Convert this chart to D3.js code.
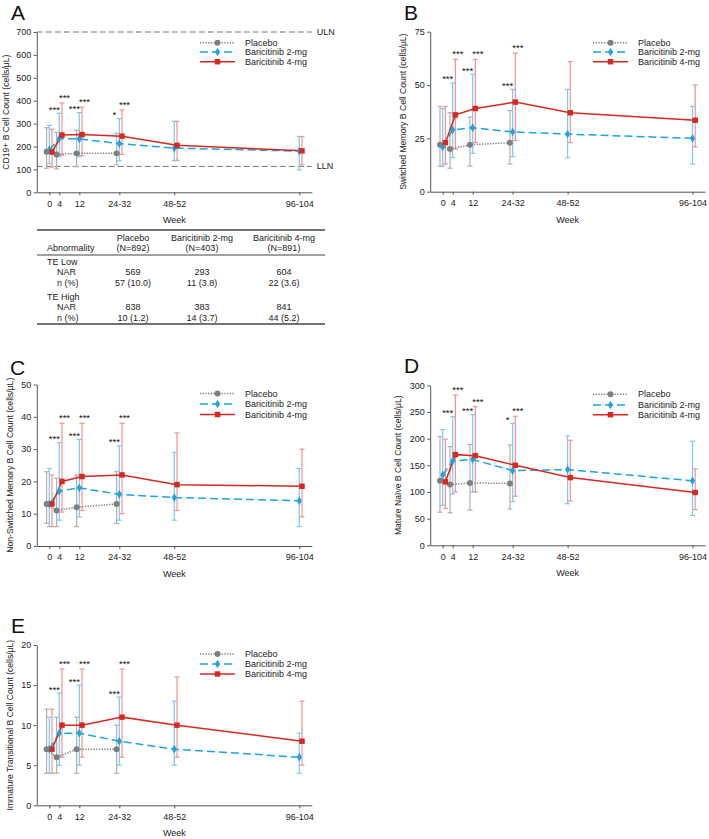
<!DOCTYPE html>
<html><head><meta charset="utf-8">
<script src="https://cdn.jsdelivr.net/npm/d3@7"></script>
<style>body{margin:0;background:#fff;} svg{display:block;}</style>
</head><body><svg id="c" width="709" height="839"></svg>
<script>
const FONT = '"Liberation Sans", Arial, sans-serif';
const weekLabels = ["0","4","12","24-32","48-52","96-104"];
const weekPos = [0,4,12,28,50,100];
const seriesNames = ["Placebo","Baricitinib 2-mg","Baricitinib 4-mg"];

// [mean, lower, upper] per visit
const cd19Placebo = [[177,105,282],[165,102,262],[170,112,271],[170,120,258]];
const cd19Bari2 = [[185,125,292],[235,155,345],[233,155,348],[213,138,322],[193,138,310],[180,98,244]];
const cd19Bari4 = [[176,110,275],[250,162,390],[252,160,372],[245,165,360],[205,140,310],[181,120,243]];
const cd19Stars2 = ["","***","***","*","",""];
const cd19Stars4 = ["","***","***","***","",""];
const cd19Ref = [700,113];

const swPlacebo = [[22,12,40],[20,11,37],[22,12,35],[23,13,38]];
const swBari2 = [[21,12,39],[29,16,51],[30,18,55],[28,16.5,48],[27,16,48],[25,13,40]];
const swBari4 = [[23,13,40],[36,20,62],[39,23,62],[42,24,65],[37,23,61],[33.5,21,50]];
const swStars2 = ["","***","***","***","",""];
const swStars4 = ["","***","***","***","",""];

const nswPlacebo = [[13,7,23],[11,6,21],[12,6,22],[13,7,23]];
const nswBari2 = [[13,6,24],[17,8,32],[18,9,33],[16,8,31],[15,8,29],[14,6,24]];
const nswBari4 = [[13,6,22],[20,10.5,38],[21.5,11,38],[22,10,38],[19,11,35],[18.5,9,30]];
const nswStars2 = ["","***","***","***","",""];
const nswStars4 = ["","***","***","***","",""];

const mnPlacebo = [[121,62,204],[114,61,185],[117,66,189],[116,68,188]];
const mnBari2 = [[132,75,217],[158,96,241],[161,100,245],[140,82,229],[142,78,205],[121,56,195]];
const mnBari4 = [[119,69,199],[170,100,282],[168,100,260],[150,92,242],[127,83,197],[99,67,143]];
const mnStars2 = ["","***","***","*","",""];
const mnStars4 = ["","***","***","***","",""];

const itPlacebo = [[7,4,12],[6,4,11],[7,4,11],[7,4,10]];
const itBari2 = [[7,4,11],[9,5,14],[9,5,15],[8,5,13.5],[7,5,13],[6,4,9]];
const itBari4 = [[7,4,12],[10,6,17],[10,6,17],[11,6,17],[10,6,16],[8,5,13]];
const itStars2 = ["","***","***","***","",""];
const itStars4 = ["","***","***","***","",""];

const tableHeads = [["Placebo","(N=892)"],["Baricitinib 2-mg","(N=403)"],["Baricitinib 4-mg","(N=891)"]];
const teLowNAR = ["569","293","604"];
const teLowN = ["57 (10.0)","11 (3.8)","22 (3.6)"];
const teHighNAR = ["838","383","841"];
const teHighN = ["10 (1.2)","14 (3.7)","44 (5.2)"];

const styles = [
  {color:"#7f7f7f", err:"#b0b0b0", dash:"1.3,1.4", off:-2.7, sym:d3.symbolCircle, size:28, starShift:0, starLift:1},
  {color:"#1fa3dc", err:"#7ccaeb", dash:"8,4", off:0, sym:d3.symbolDiamond, size:22, starShift:-5, starLift:0.5},
  {color:"#d52a22", err:"#ee9494", dash:null, off:2.7, sym:d3.symbolSquare, size:30, starShift:2.5, starLift:2}
];

const svg = d3.select("#c");

function txt(g, x, y, s, size, anchor) {
  return g.append("text").attr("x", x).attr("y", y).text(s)
    .attr("font-family", FONT).attr("font-size", size).attr("fill", "#222")
    .attr("text-anchor", anchor || "start").attr("dominant-baseline", "central");
}

function drawPanel(c) {
  const x = d3.scaleLinear().domain([-5,105]).range([c.x0, c.x1]);
  const y = d3.scaleLinear().domain([0, c.yMax]).range([c.yB, c.yT]);
  const g = svg.append("g");

  if (c.ref) {
    c.ref.forEach((v, i) => {
      g.append("line").attr("x1", c.x0).attr("x2", c.x1).attr("y1", y(v)).attr("y2", y(v))
        .attr("stroke", "#777").attr("stroke-width", 1).attr("stroke-dasharray", "6,3");
      txt(g, c.x1 + 5, y(v), i === 0 ? "ULN" : "LLN", 9);
    });
  }

  const xa = g.append("g").attr("transform", `translate(0,${c.yB})`)
    .call(d3.axisBottom(x).tickValues(weekPos).tickFormat((d,i)=>weekLabels[i]).tickSize(3).tickSizeOuter(0).tickPadding(5));
  const ya = g.append("g").attr("transform", `translate(${c.x0},0)`)
    .call(d3.axisLeft(y).tickValues(c.ticks).tickSize(3).tickSizeOuter(0).tickPadding(2.5));
  [xa, ya].forEach(a => {
    a.selectAll("path,line").attr("stroke", "#555");
    a.selectAll("text").attr("font-size", 9).attr("fill", "#222").attr("font-family", FONT);
  });

  txt(g, (c.x0 + c.x1) / 2, c.yB + 28, "Week", 9, "middle");
  g.append("text").attr("transform", `translate(${c.ylx},${(c.yT + c.yB) / 2}) rotate(-90)`)
    .attr("text-anchor", "middle").attr("dominant-baseline", "central")
    .attr("font-family", FONT).attr("font-size", 8.6).attr("fill", "#222").text(c.ylabel);
  g.append("text").attr("x", c.lx).attr("y", c.ly).text(c.letter)
    .attr("font-family", FONT).attr("font-size", 21).attr("fill", "#111");

  const data = [c.p, c.b, c.r];
  data.forEach((d, si) => {
    const st = styles[si];
    d.forEach((v, i) => {
      const px = x(weekPos[i]) + st.off;
      g.append("line").attr("x1", px).attr("x2", px).attr("y1", y(v[1])).attr("y2", y(v[2]))
        .attr("stroke", st.err).attr("stroke-width", 1.2);
      [v[1], v[2]].forEach(e => {
        g.append("line").attr("x1", px - 2.5).attr("x2", px + 2.5).attr("y1", y(e)).attr("y2", y(e))
          .attr("stroke", st.err).attr("stroke-width", 1.2);
      });
    });
  });
  data.forEach((d, si) => {
    const st = styles[si];
    const line = d3.line().x((v, i) => x(weekPos[i]) + st.off).y(v => y(v[0]));
    g.append("path").attr("d", line(d)).attr("fill", "none").attr("stroke", st.color)
      .attr("stroke-width", 1.5).attr("stroke-dasharray", st.dash);
  });
  data.forEach((d, si) => {
    const st = styles[si];
    d.forEach((v, i) => {
      g.append("path").attr("d", d3.symbol().type(st.sym).size(st.size)())
        .attr("transform", `translate(${x(weekPos[i]) + st.off},${y(v[0])})`).attr("fill", st.color);
    });
  });
  [[c.b, c.s2, styles[1]], [c.r, c.s4, styles[2]]].forEach(([d, s, st]) => {
    s.forEach((t, i) => {
      if (!t) return;
      g.append("text").attr("x", x(weekPos[i]) + st.off + st.starShift).attr("y", y(d[i][2]) - st.starLift)
        .attr("text-anchor", "middle").attr("font-family", FONT).attr("font-size", 9.5)
        .attr("fill", "#111").text(t);
    });
  });
  seriesNames.forEach((n, si) => {
    const st = styles[si];
    const ly = c.legY[si];
    g.append("line").attr("x1", c.legX).attr("x2", c.legX + 35).attr("y1", ly).attr("y2", ly)
      .attr("stroke", st.color).attr("stroke-width", 1.5).attr("stroke-dasharray", st.dash);
    g.append("path").attr("d", d3.symbol().type(st.sym).size(st.size)())
      .attr("transform", `translate(${c.legX + 17.5},${ly})`).attr("fill", st.color);
    txt(g, c.legX + 45, ly, n, 9);
  });
}

drawPanel({x0:36.8, x1:311.8, yT:32, yB:192.3, yMax:700, ticks:d3.range(0,701,100),
  p:cd19Placebo, b:cd19Bari2, r:cd19Bari4, s2:cd19Stars2, s4:cd19Stars4, ref:cd19Ref,
  ylabel:"CD19+ B Cell Count (cells/μL)", ylx:6, letter:"A", lx:11, ly:20,
  legX:200, legY:[42.7,52,61.7]});

drawPanel({x0:430.2, x1:705, yT:31.7, yB:191.7, yMax:75, ticks:[0,25,50,75],
  p:swPlacebo, b:swBari2, r:swBari4, s2:swStars2, s4:swStars4,
  ylabel:"Switched Memory B Cell Count (cells/μL)", ylx:403, letter:"B", lx:404, ly:19.5,
  legX:593, legY:[42.7,52,61.7]});

drawPanel({x0:36.8, x1:311.8, yT:384.5, yB:546, yMax:50, ticks:d3.range(0,51,10),
  p:nswPlacebo, b:nswBari2, r:nswBari4, s2:nswStars2, s4:nswStars4,
  ylabel:"Non-Switched Memory B Cell Count (cells/μL)", ylx:10, letter:"C", lx:10, ly:375,
  legX:200, legY:[393.5,404,414.5]});

drawPanel({x0:430.2, x1:705, yT:385.3, yB:545.3, yMax:300, ticks:d3.range(0,301,50),
  p:mnPlacebo, b:mnBari2, r:mnBari4, s2:mnStars2, s4:mnStars4,
  ylabel:"Mature Naïve B Cell Count (cells/μL)", ylx:398, letter:"D", lx:404, ly:373,
  legX:593, legY:[394.3,405,414.7]});

drawPanel({x0:36.8, x1:311.8, yT:645, yB:805.3, yMax:20, ticks:d3.range(0,21,5),
  p:itPlacebo, b:itBari2, r:itBari4, s2:itStars2, s4:itStars4,
  ylabel:"Immature Transitional B Cell Count (cells/μL)", ylx:10, letter:"E", lx:11, ly:633,
  legX:200, legY:[654,664,674]});

const tg = svg.append("g");
const colX = [133, 202, 284];
[[230,1.3],[255,1],[324,1.3]].forEach(([yy, w]) => {
  tg.append("line").attr("x1", 37).attr("x2", 325).attr("y1", yy).attr("y2", yy)
    .attr("stroke", "#444").attr("stroke-width", w);
});
txt(tg, 47, 248.3, "Abnormality", 9);
tableHeads.forEach((h, i) => {
  txt(tg, colX[i], 238.3, h[0], 9, "middle");
  txt(tg, colX[i], 248.3, h[1], 9, "middle");
});
txt(tg, 47, 262.3, "TE Low", 9);
txt(tg, 57, 272.3, "NAR", 9);
txt(tg, 57, 283.3, "n (%)", 9);
txt(tg, 47, 296.7, "TE High", 9);
txt(tg, 57, 307.3, "NAR", 9);
txt(tg, 57, 317.7, "n (%)", 9);
[[teLowNAR,272.3],[teLowN,283.3],[teHighNAR,307.3],[teHighN,317.7]].forEach(([arr, yy]) => {
  arr.forEach((v, i) => txt(tg, colX[i], yy, v, 9, "middle"));
});
</script>
</body></html>
